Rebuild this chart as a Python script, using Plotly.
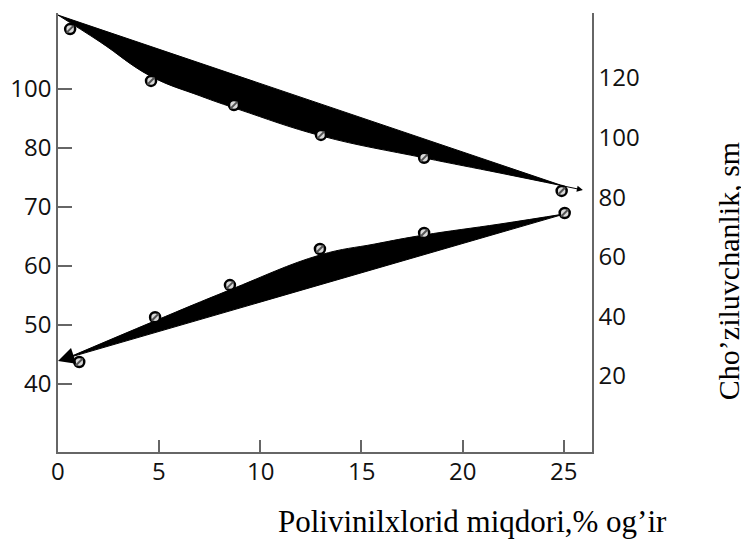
import plotly.graph_objects as go

# ---- data (x: polyvinylchloride content, % mass; y: right-axis scale) ----
X_TICKS = [0, 5, 10, 15, 20, 25]
RIGHT_TICKS = [20, 40, 60, 80, 100, 120]
LEFT_TICK_LABELS = ["40", "50", "60", "70", "80", "100"]

# measured points
upper_x = [0.6, 4.6, 8.7, 13.0, 18.1, 24.9]
upper_y = [136.4, 119.0, 110.9, 100.9, 93.2, 82.1]
lower_x = [1.05, 4.8, 8.5, 12.95, 18.1, 25.05]
lower_y = [24.7, 39.7, 50.5, 62.6, 68.0, 74.7]

# upper band: straight edge and curved edge
upper_line_x = [0.0, 24.96]
upper_line_y = [141.1, 83.8]
upper_curve_x = [0.0, 2.08, 4.55, 7.02, 9.0, 13.05, 18.09, 21.85, 24.96]
upper_curve_y = [141.1, 132.1, 120.7, 114.0, 109.3, 100.5, 93.2, 88.1, 83.8]
upper_arrow_tip = (25.95, 82.4)

# lower band: straight edge and curved edge
lower_line_x = [0.44, 25.06]
lower_line_y = [26.0, 74.4]
lower_curve_x = [0.44, 4.79, 8.5, 12.95, 15.67, 18.09, 21.85, 25.06]
lower_curve_y = [26.0, 38.5, 48.9, 60.6, 64.3, 67.3, 71.0, 74.4]
lower_arrow_tip = (0.0, 25.0)

AX_COL = "#666666"
TICK_FONT = dict(family="Open Sans", size=24, color="#111111")
TITLE_FONT = dict(family="Liberation Serif", size=31, color="#000000")
YTITLE_FONT = dict(family="Liberation Serif", size=30, color="#000000")

fig = go.Figure()

# upper band
fig.add_trace(go.Scatter(x=upper_line_x, y=upper_line_y, mode="lines",
                         line=dict(color="black", width=1), hoverinfo="skip"))
fig.add_trace(go.Scatter(x=upper_curve_x, y=upper_curve_y, mode="lines",
                         line=dict(color="black", width=1, shape="spline", smoothing=1.2),
                         fill="tonexty", fillcolor="black", hoverinfo="skip"))
# lower band
fig.add_trace(go.Scatter(x=lower_line_x, y=lower_line_y, mode="lines",
                         line=dict(color="black", width=1), hoverinfo="skip"))
fig.add_trace(go.Scatter(x=lower_curve_x, y=lower_curve_y, mode="lines",
                         line=dict(color="black", width=1, shape="spline", smoothing=1.2),
                         fill="tonexty", fillcolor="black", hoverinfo="skip"))

# markers
for xs, ys in ((upper_x, upper_y), (lower_x, lower_y)):
    fig.add_trace(go.Scatter(x=xs, y=ys, mode="markers",
                             marker=dict(symbol="circle", size=10, color="#d9d9d9",
                                         line=dict(color="black", width=2.5))))
    fig.add_trace(go.Scatter(x=xs, y=ys, mode="markers",
                             marker=dict(symbol="line-ne", size=7,
                                         line=dict(color="#555555", width=2))))

# empty trace so the left (label) axis is drawn
fig.add_trace(go.Scatter(x=[], y=[], yaxis="y2", hoverinfo="skip"))

# arrows
fig.add_annotation(x=upper_arrow_tip[0], y=upper_arrow_tip[1], xref="x", yref="y",
                   ax=upper_line_x[-1], ay=upper_line_y[-1], axref="x", ayref="y",
                   text="", showarrow=True, arrowhead=2, arrowsize=1.2,
                   arrowwidth=1, arrowcolor="black")
fig.add_annotation(x=lower_arrow_tip[0], y=lower_arrow_tip[1], xref="x", yref="y",
                   ax=lower_line_x[0], ay=lower_line_y[0], axref="x", ayref="y",
                   text="", showarrow=True, arrowhead=2, arrowsize=2.2,
                   arrowwidth=1.5, arrowcolor="black")

# x tick labels (placed slightly closer to the axis than Plotly's default)
for v in X_TICKS:
    fig.add_annotation(text=str(v), x=v, xref="x", y=-0.043, yref="paper",
                       xanchor="center", yanchor="middle", showarrow=False,
                       font=TICK_FONT)

# axis titles
fig.add_annotation(text="Polivinilxlorid miqdori,% og\u2019ir", xref="paper", yref="paper",
                   x=0.777, y=-0.159, xanchor="center", yanchor="middle",
                   showarrow=False, font=TITLE_FONT)
fig.add_annotation(text="Cho\u2019ziluvchanlik, sm", xref="paper", yref="paper",
                   x=1.2547, y=0.412, xanchor="center", yanchor="middle",
                   textangle=-90, showarrow=False, font=YTITLE_FONT)

# page body adds an 8px offset; figure is sized to fill the remaining window
fig.update_layout(
    width=741, height=533,
    margin=dict(l=50, r=157, t=5, b=89),
    paper_bgcolor="white", plot_bgcolor="white",
    showlegend=False,
    xaxis=dict(range=[0, 26.4], tickvals=X_TICKS, ticks="inside", ticklen=12,
               tickcolor=AX_COL, tickwidth=1.5, showline=True, linecolor=AX_COL,
               linewidth=1.5, showgrid=False, zeroline=False, showticklabels=False,
               automargin=False),
    yaxis=dict(range=[-5.5, 141.8], side="right", tickvals=RIGHT_TICKS, ticks="",
               showline=True, linecolor=AX_COL, linewidth=1.5, showgrid=False,
               zeroline=False, tickfont=TICK_FONT, ticklabelstandoff=0,
               automargin=False),
    yaxis2=dict(range=[-1.153, 6.288], overlaying="y", side="left",
                tickvals=list(range(len(LEFT_TICK_LABELS))), ticktext=LEFT_TICK_LABELS,
                ticks="inside", ticklen=14, tickcolor=AX_COL, tickwidth=1.5,
                showline=True, linecolor=AX_COL, linewidth=1.5, showgrid=False,
                zeroline=False, tickfont=TICK_FONT, ticklabelstandoff=0,
                automargin=False),
)

fig.write_html("out.html")
